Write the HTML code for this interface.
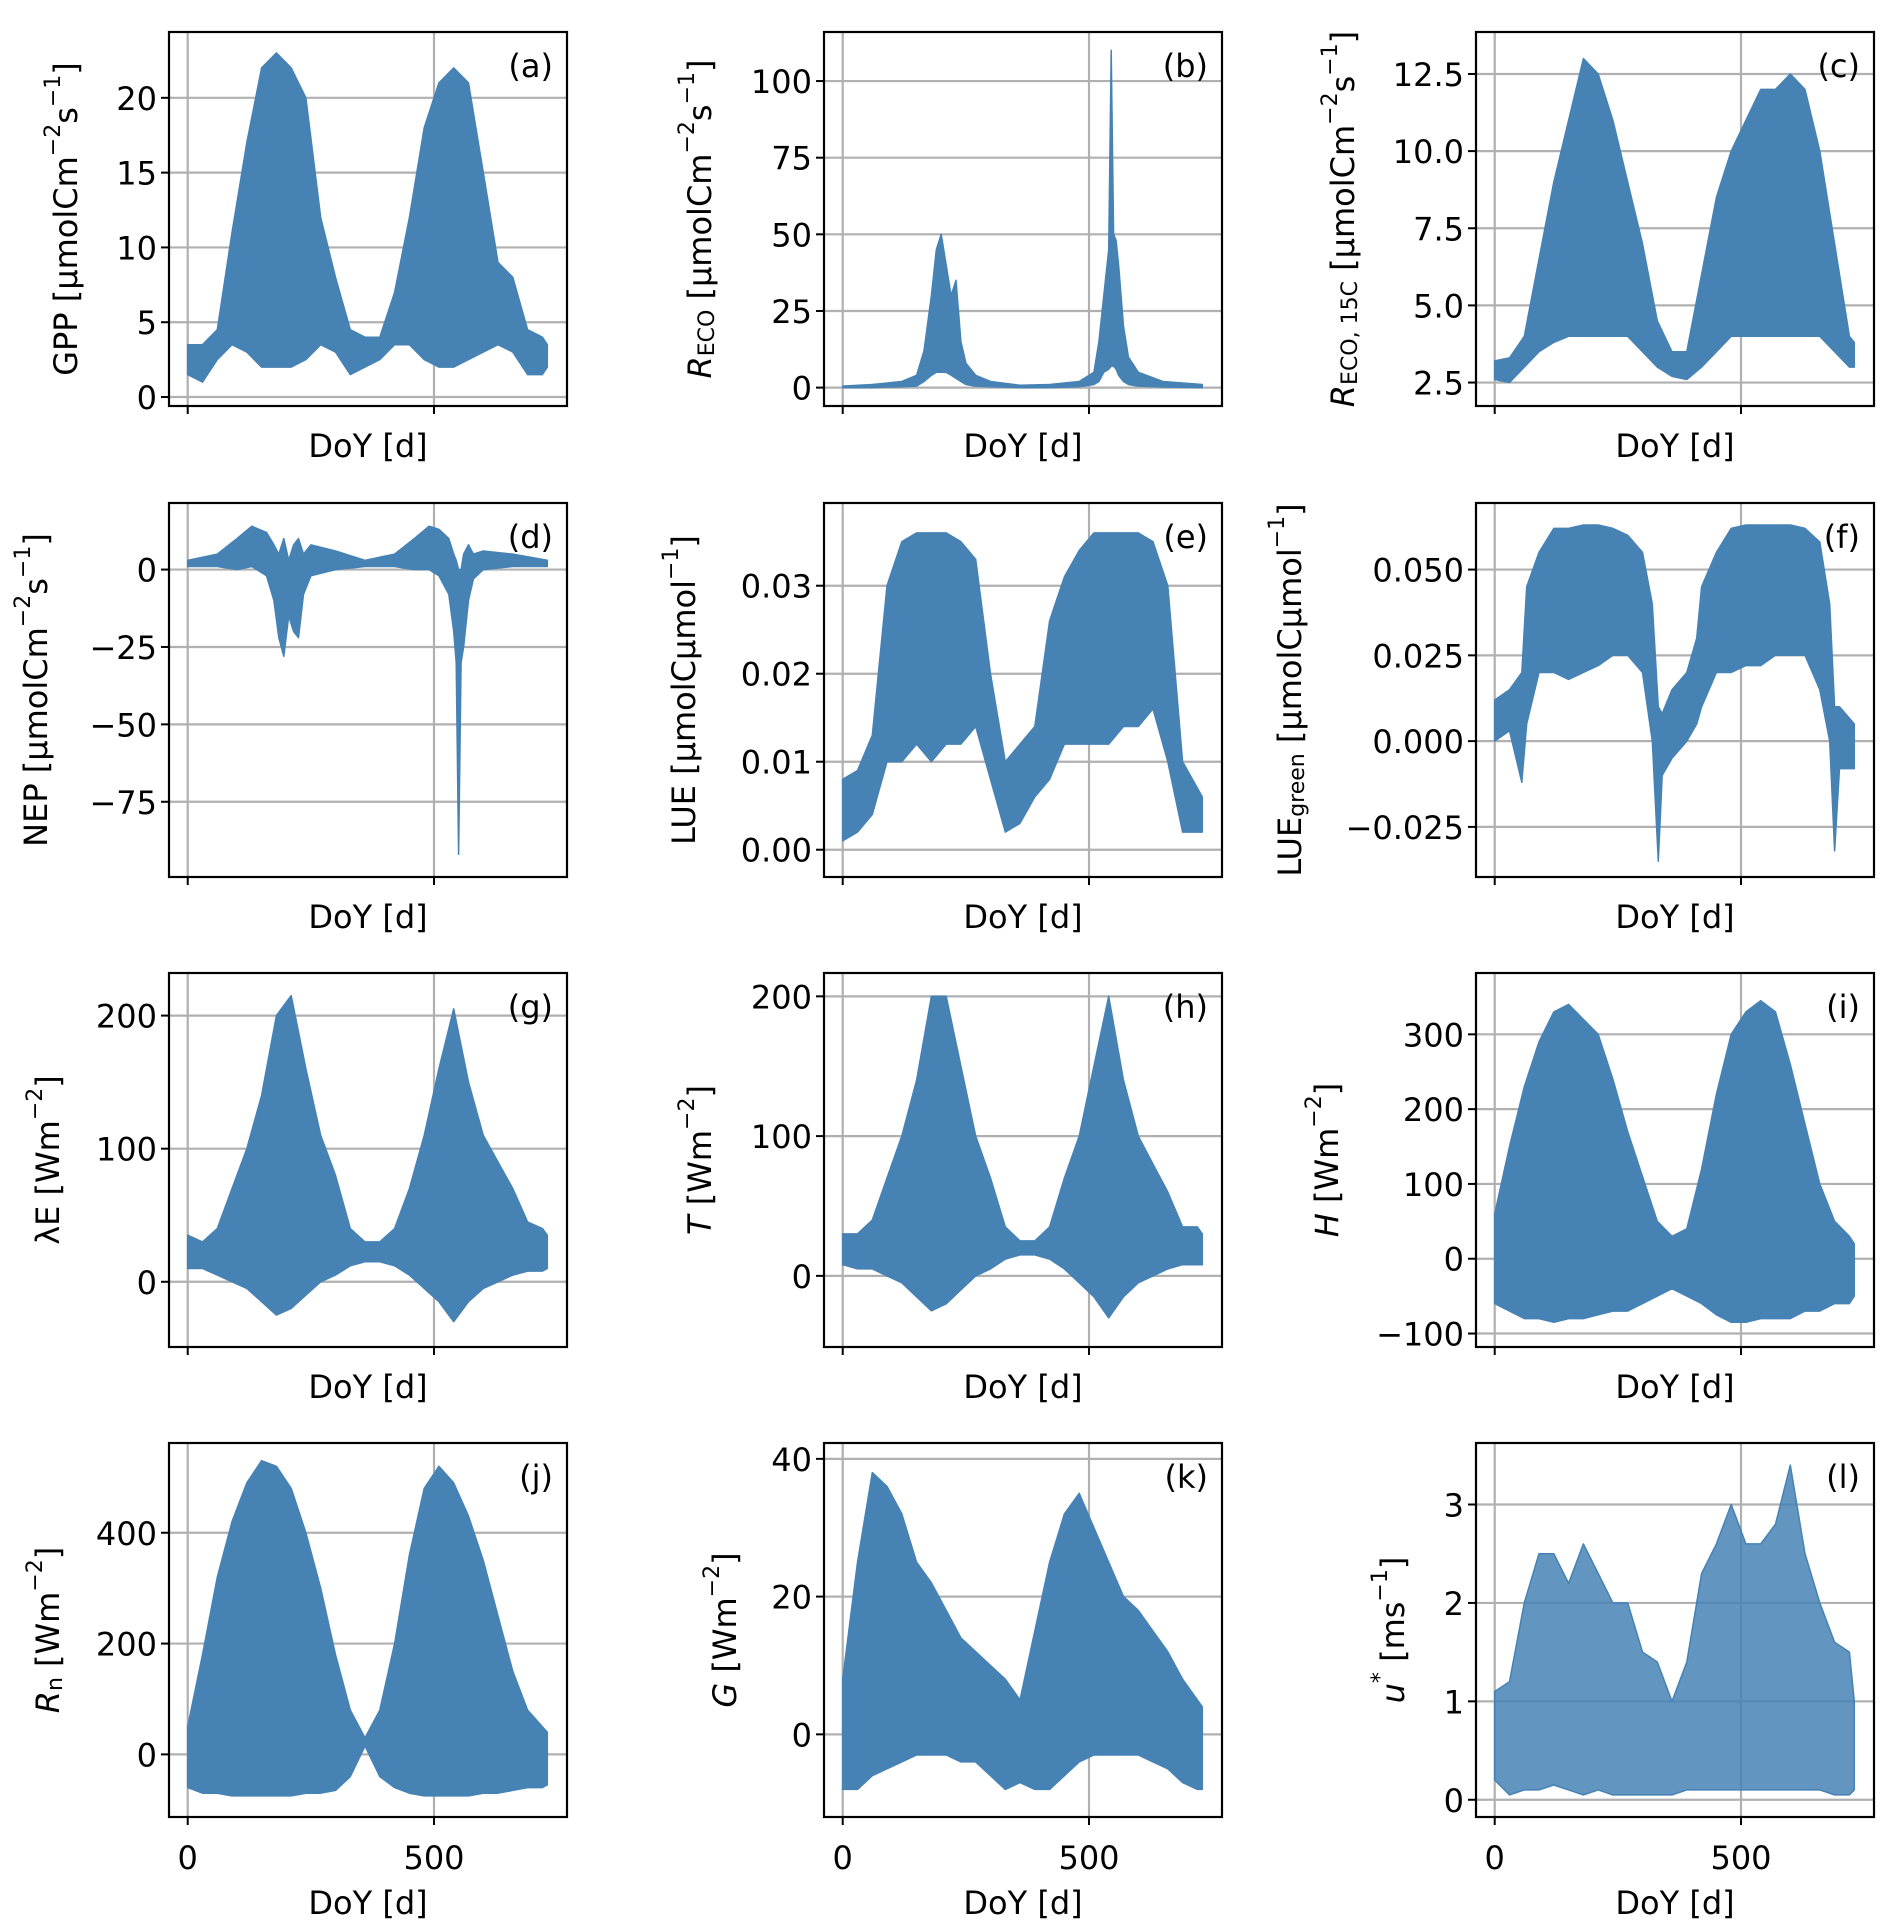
<!DOCTYPE html>
<html><head><meta charset="utf-8"><style>
html,body{margin:0;padding:0;background:#fff}
svg{display:block;font-family:"DejaVu Sans","Liberation Sans",sans-serif}
</style></head><body>
<svg id="fig" width="1892" height="1932" viewBox="0 0 1892 1932" xmlns="http://www.w3.org/2000/svg"></svg>
<script>
// ---- data (envelopes of dense series) ----
const gridDays = [0,30,60,90,120,150,180,210,240,270,300,330,360,390,420,450,480,510,540,570,600,630,660,690,720,730];
const xTicks = [0,500];
const xTickLabels = ["0","500"];

const gppHi = [3.5,3.5,4.5,11,17,22,23,22,20,12,8,4.5,4,4,7,12,18,21,22,21,15,9,8,4.5,4,3.5];
const gppLo = [1.5,1,2.5,3.5,3,2,2,2,2.5,3.5,3,1.5,2,2.5,3.5,3.5,2.5,2,2,2.5,3,3.5,3,1.5,1.5,2];
const gppTicks = [0,5,10,15,20];

const recoDays = [0,60,120,150,165,180,190,200,210,220,230,240,250,270,300,360,420,480,510,520,530,540,545,550,555,560,570,580,600,650,730];
const recoHi = [0.5,1,2,4,12,30,45,50,40,30,35,15,8,4,2,0.8,1,2,5,15,30,45,110,50,48,40,20,10,5,2,1];
const recoLo = [0,0,0.3,0.5,2,4,5,5,5,4,3,2,1,0.5,0.3,0,0,0.3,1,2,5,6,7,7,6,4,2,1,0.5,0.2,0];
const recoTicks = [0,25,50,75,100];

const reco15Hi = [3.2,3.3,4,6.5,9,11,13,12.5,11,9,7,4.5,3.5,3.5,6,8.5,10,11,12,12,12.5,12,10,7,4,3.8];
const reco15Lo = [2.6,2.5,3,3.5,3.8,4,4,4,4,4,3.5,3,2.7,2.6,3,3.5,4,4,4,4,4,4,4,3.5,3,3];
const reco15Ticks = [2.5,5,7.5,10,12.5];
const reco15TickLabels = ["2.5","5.0","7.5","10.0","12.5"];

const nepDays = [0,60,100,130,160,175,185,195,205,215,225,235,250,300,360,420,460,490,510,530,540,545,550,555,560,570,580,600,660,730];
const nepHi = [3,5,10,14,12,8,5,10,3,8,10,5,8,6,3,5,10,14,13,10,5,3,0,0,5,8,5,6,5,3];
const nepLo = [1,1,0,1,-2,-10,-22,-28,-15,-20,-22,-8,-2,0,1,1,0,0,-2,-8,-20,-30,-92,-30,-25,-10,-3,0,1,1];
const nepTicks = [-75,-50,-25,0];
const nepTickLabels = ["−75","−50","−25","0"];

const lueHi = [0.008,0.009,0.013,0.03,0.035,0.036,0.036,0.036,0.035,0.033,0.02,0.01,0.012,0.014,0.026,0.031,0.034,0.036,0.036,0.036,0.036,0.035,0.03,0.01,0.007,0.006];
const lueLo = [0.001,0.002,0.004,0.01,0.01,0.012,0.01,0.012,0.012,0.014,0.008,0.002,0.003,0.006,0.008,0.012,0.012,0.012,0.012,0.014,0.014,0.016,0.01,0.002,0.002,0.002];
const lueTicks = [0,0.01,0.02,0.03];
const lueTickLabels = ["0.00","0.01","0.02","0.03"];

const lueGDays = [0,30,55,65,90,120,150,180,210,240,270,300,320,332,340,360,390,410,420,450,480,510,540,570,600,630,660,680,690,700,730];
const lueGHi = [0.012,0.015,0.02,0.045,0.055,0.062,0.062,0.063,0.063,0.062,0.06,0.055,0.04,0.01,0.008,0.015,0.02,0.03,0.045,0.055,0.062,0.063,0.063,0.063,0.063,0.062,0.058,0.04,0.01,0.01,0.005];
const lueGLo = [0,0.003,-0.012,0.005,0.02,0.02,0.018,0.02,0.022,0.025,0.025,0.02,0,-0.035,-0.01,-0.005,0,0.005,0.01,0.02,0.02,0.022,0.022,0.025,0.025,0.025,0.015,0,-0.032,-0.008,-0.008];
const lueGTicks = [-0.025,0,0.025,0.05];
const lueGTickLabels = ["−0.025","0.000","0.025","0.050"];

const leHi = [35,30,40,70,100,140,200,215,160,110,80,40,30,30,40,70,110,160,205,150,110,90,70,45,40,35];
const leLo = [10,10,5,0,-5,-15,-25,-20,-10,0,5,12,15,15,12,5,-5,-15,-30,-15,-5,0,5,8,8,10];
const leTicks = [0,100,200];

const tHi = [30,30,40,70,100,140,200,200,150,100,70,35,25,25,35,70,100,150,200,140,100,80,60,35,35,30];
const tLo = [8,5,5,0,-5,-15,-25,-20,-10,0,5,12,15,15,12,5,-5,-15,-30,-15,-5,0,5,8,8,8];
const tTicks = [0,100,200];

const hHi = [60,150,230,290,330,340,320,300,240,170,110,50,30,40,120,220,300,330,345,330,260,180,100,50,30,20];
const hLo = [-60,-70,-80,-80,-85,-80,-80,-75,-70,-70,-60,-50,-40,-50,-60,-75,-85,-85,-80,-80,-80,-70,-70,-60,-60,-50];
const hTicks = [-100,0,100,200,300];
const hTickLabels = ["−100","0","100","200","300"];

const rnHi = [50,180,320,420,490,530,520,480,400,300,180,80,30,80,200,360,480,520,490,430,350,250,150,80,50,40];
const rnLo = [-60,-70,-70,-75,-75,-75,-75,-75,-70,-70,-65,-40,15,-40,-60,-70,-75,-75,-75,-75,-70,-70,-65,-60,-60,-55];
const rnTicks = [0,200,400];

const gHi = [8,25,38,36,32,25,22,18,14,12,10,8,5,15,25,32,35,30,25,20,18,15,12,8,5,4];
const gLo = [-8,-8,-6,-5,-4,-3,-3,-3,-4,-4,-6,-8,-7,-8,-8,-6,-4,-3,-3,-3,-3,-4,-5,-7,-8,-8];
const gTicks = [0,20,40];

const ustHi = [1.1,1.2,2.0,2.5,2.5,2.2,2.6,2.3,2.0,2.0,1.5,1.4,1.0,1.4,2.3,2.6,3.0,2.6,2.6,2.8,3.4,2.5,2.0,1.6,1.5,1.0];
const ustLo = [0.2,0.05,0.1,0.1,0.15,0.1,0.05,0.1,0.05,0.05,0.05,0.05,0.05,0.1,0.1,0.1,0.1,0.1,0.1,0.1,0.1,0.1,0.1,0.05,0.05,0.1];
const ustTicks = [0,1,2,3];

// ---- layout ----
const NS = "http://www.w3.org/2000/svg";
const svg = document.getElementById('fig');
const colX = [169, 824, 1476];
const rowY = [32, 503, 973, 1443];
const AW = 398, AH = 374;
const XMIN = -38, XMAX = 770;
const FS = 32;

const panels = [
 {k:'a',name:'gpp',c:0,r:0,ymin:-0.6,ymax:24.4,days:gridDays,hi:gppHi,lo:gppLo,ticks:gppTicks,tl:null,label:"GPP [µmolCm^{−2}s^{−1}]",lx:66},
 {k:'b',name:'reco',c:1,r:0,ymin:-6,ymax:116,days:recoDays,hi:recoHi,lo:recoLo,ticks:recoTicks,tl:null,label:"*{R}_{ECO} [µmolCm^{−2}s^{−1}]",lx:700},
 {k:'c',name:'reco15c',c:2,r:0,ymin:1.74,ymax:13.86,days:gridDays,hi:reco15Hi,lo:reco15Lo,ticks:reco15Ticks,tl:reco15TickLabels,label:"*{R}_{ECO, 15C} [µmolCm^{−2}s^{−1}]",lx:1343},
 {k:'d',name:'nep',c:0,r:1,ymin:-99.3,ymax:21.5,days:nepDays,hi:nepHi,lo:nepLo,ticks:nepTicks,tl:nepTickLabels,label:"NEP [µmolCm^{−2}s^{−1}]",lx:36},
 {k:'e',name:'lue',c:1,r:1,ymin:-0.0031,ymax:0.0394,days:gridDays,hi:lueHi,lo:lueLo,ticks:lueTicks,tl:lueTickLabels,label:"LUE [µmolCµmol^{−1}]",lx:684},
 {k:'f',name:'lue-green',c:2,r:1,ymin:-0.0396,ymax:0.0694,days:lueGDays,hi:lueGHi,lo:lueGLo,ticks:lueGTicks,tl:lueGTickLabels,label:"LUE_{green} [µmolCµmol^{−1}]",lx:1290},
 {k:'g',name:'latent-heat',c:0,r:2,ymin:-49,ymax:232,days:gridDays,hi:leHi,lo:leLo,ticks:leTicks,tl:null,label:"λE [Wm^{−2}]",lx:48},
 {k:'h',name:'transpiration',c:1,r:2,ymin:-50.9,ymax:216.7,days:gridDays,hi:tHi,lo:tLo,ticks:tTicks,tl:null,label:"*{T} [Wm^{−2}]",lx:700},
 {k:'i',name:'sensible-heat',c:2,r:2,ymin:-118,ymax:382,days:gridDays,hi:hHi,lo:hLo,ticks:hTicks,tl:hTickLabels,label:"*{H} [Wm^{−2}]",lx:1327},
 {k:'j',name:'net-radiation',c:0,r:3,ymin:-113,ymax:562,days:gridDays,hi:rnHi,lo:rnLo,ticks:rnTicks,tl:null,label:"*{R}_{n} [Wm^{−2}]",lx:48},
 {k:'k',name:'ground-heat',c:1,r:3,ymin:-12,ymax:42.3,days:gridDays,hi:gHi,lo:gLo,ticks:gTicks,tl:null,label:"*{G} [Wm^{−2}]",lx:725},
 {k:'l',name:'friction-velocity',c:2,r:3,ymin:-0.175,ymax:3.625,days:gridDays,hi:ustHi,lo:ustLo,ticks:ustTicks,tl:null,label:"*{u}^{*} [ms^{−1}]",lx:1393,op:0.85}
];

function mk(tag, attrs, parent){
  const e = document.createElementNS(NS, tag);
  for (const a in attrs) e.setAttribute(a, attrs[a]);
  (parent||svg).appendChild(e);
  return e;
}

function richText(t, str){
  const re = /(\^|_|\*)\{([^}]*)\}|([^\^_*]+)/g;
  let m, off = 0;
  while ((m = re.exec(str))){
    const ts = document.createElementNS(NS,'tspan');
    if (m[3] !== undefined){
      ts.textContent = m[3];
      if (off) { ts.setAttribute('dy', -off); off = 0; }
    } else if (m[1] === '*'){
      ts.textContent = m[2];
      ts.setAttribute('font-style','italic');
      if (off) { ts.setAttribute('dy', -off); off = 0; }
    } else {
      const shift = m[1] === '^' ? -13 : 7;
      ts.textContent = m[2];
      ts.setAttribute('font-size','22');
      ts.setAttribute('dy', shift - off);
      off = shift;
    }
    t.appendChild(ts);
  }
  if (off){ const ts=document.createElementNS(NS,'tspan'); ts.setAttribute('dy',-off); ts.textContent='\u200b'; t.appendChild(ts); }
}

panels.forEach(p => {
  const L = colX[p.c], T = rowY[p.r];
  const xs = d => L + (d - XMIN) / (XMAX - XMIN) * AW;
  const ys = v => T + (p.ymax - v) / (p.ymax - p.ymin) * AH;
  const g = mk('g', {});
  
  
  const cp = mk('clipPath', {id:'clip-'+p.k}, g);
  mk('rect', {x:L, y:T, width:AW, height:AH}, cp);

  xTicks.forEach(v => {
    const l = mk('line', {x1:xs(v), x2:xs(v), y1:T, y2:T+AH, stroke:'#b0b0b0', 'stroke-width':2.2}, g);
    
    
  });
  p.ticks.forEach(v => {
    const l = mk('line', {x1:L, x2:L+AW, y1:ys(v), y2:ys(v), stroke:'#b0b0b0', 'stroke-width':2.2}, g);
    
    
  });

  let pts = [];
  for (let i = 0; i < p.days.length; i++) pts.push(xs(p.days[i]).toFixed(1) + ',' + ys(p.hi[i]).toFixed(1));
  for (let i = p.days.length - 1; i >= 0; i--) pts.push(xs(p.days[i]).toFixed(1) + ',' + ys(p.lo[i]).toFixed(1));
  const poly = mk('polygon', {points:pts.join(' '), fill:'#4682b4', 'fill-opacity':p.op||1, stroke:'#4682b4', 'stroke-width':1.5, 'stroke-linejoin':'round', 'clip-path':'url(#clip-'+p.k+')'}, g);
  
  

  const fr = mk('rect', {x:L, y:T, width:AW, height:AH, fill:'none', stroke:'#000', 'stroke-width':2.2}, g);
  
  

  xTicks.forEach((v, i) => {
    const tk = mk('line', {x1:xs(v), x2:xs(v), y1:T+AH, y2:T+AH+8, stroke:'#000', 'stroke-width':2}, g);
    
    
    if (p.r === 3){
      const t = mk('text', {x:xs(v), y:T+AH+52, 'font-size':FS, 'text-anchor':'middle', fill:'#000'}, g);
      t.textContent = xTickLabels[i];
      
      
    }
  });
  p.ticks.forEach((v, i) => {
    const tk = mk('line', {x1:L-8, x2:L, y1:ys(v), y2:ys(v), stroke:'#000', 'stroke-width':2}, g);
    
    
    const t = mk('text', {x:L-12, y:ys(v)+12, 'font-size':FS, 'text-anchor':'end', fill:'#000'}, g);
    t.textContent = p.tl ? p.tl[i] : String(v);
    
    
  });

  const xl = mk('text', {x:L+AW/2, y: p.r===3 ? T+AH+97 : T+AH+51, 'font-size':FS, 'text-anchor':'middle', fill:'#000'}, g);
  xl.textContent = 'DoY [d]';
  
  

  const cy = T + AH/2;
  const yl = mk('text', {x:p.lx, y:cy, 'font-size':FS, 'text-anchor':'middle', fill:'#000', transform:'rotate(-90 '+p.lx+' '+cy+')', 'dominant-baseline':'central'}, g);
  richText(yl, p.label);
  
  

  const pl = mk('text', {x:L+AW-14, y:T+45, 'font-size':FS, 'text-anchor':'end', fill:'#000'}, g);
  pl.textContent = '(' + p.k + ')';
  
  
});
</script>
</body></html>
